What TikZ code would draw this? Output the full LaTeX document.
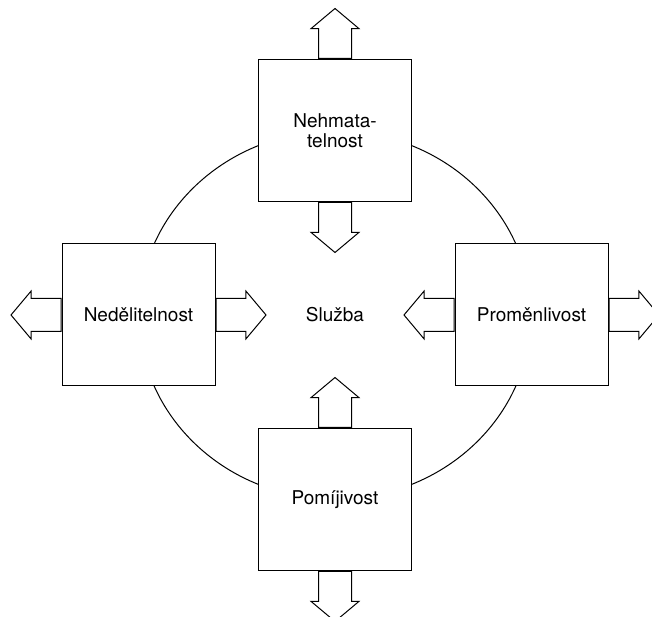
\documentclass[tikz,border=0pt]{standalone}
\usepackage{fontspec}
\setmainfont{TeX Gyre Heros}
\usetikzlibrary{shapes.geometric,shapes.arrows,positioning}

\begin{document}
\begin{tikzpicture}[x=1pt,y=1pt,line width=1pt,
    vlastnost/.style={draw,fill=white,minimum width=153pt,minimum height=142pt,
      inner sep=0pt,align=center,font=\fontsize{19}{20}\selectfont},
    sipka/.style={single arrow,draw,fill=white,minimum height=50pt,inner sep=16pt,
      single arrow head extend=7.5pt,single arrow tip angle=100,anchor=tail}]
  \useasboundingbox (0,0) rectangle (652,617);

  % kruh kolem sluzby
  \node[ellipse,draw,minimum width=392pt,minimum height=368pt,inner sep=0pt,
    font=\fontsize{19}{20}\selectfont] (sluzba) at (335,302) {Služba};

  % ctyri vlastnosti
  \node[vlastnost] (nehm) at (sluzba.north) {Nehmata-\\telnost};
  \node[vlastnost] (nedel) at (sluzba.west) {Nedělitelnost};
  \node[vlastnost] (prom) at (sluzba.east) {Proměnlivost};
  \node[vlastnost] (pomij) at (sluzba.south) {Pomíjivost};

  % sipky ven a dovnitr
  \foreach \vl/\stra/\strb/\rota/\rotb in {nehm/north/south/90/270,
      nedel/west/east/180/0, prom/east/west/0/180, pomij/south/north/270/90} {
    \node[sipka,rotate=\rota] (\vl-ven) at (\vl.\stra) {};
    \node[sipka,rotate=\rotb] (\vl-dov) at (\vl.\strb) {};
  }
\end{tikzpicture}
\end{document}
